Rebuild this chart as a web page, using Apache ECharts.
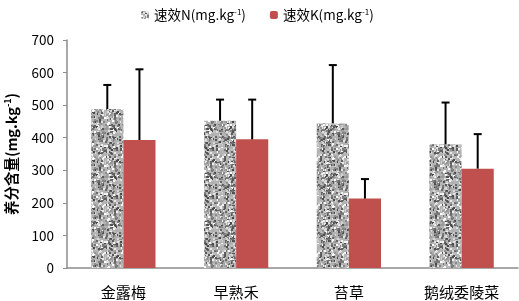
<!DOCTYPE html>
<html>
<head>
<meta charset="utf-8">
<script src="https://cdn.jsdelivr.net/npm/echarts@6/dist/echarts.min.js"></script>
<style>
  html, body { margin: 0; padding: 0; background: #fff; }
  #chart { width: 519px; height: 301px; }
</style>
</head>
<body>
<div id="chart"></div>
<script>
  const categories = ['金露梅', '早熟禾', '苔草', '鹅绒委陵菜']
  const nMean = [488, 452, 444, 380]
  const nErrTop = [562, 517, 623, 508]
  const kMean = [393, 395, 213, 305]
  const kErrTop = [610, 517, 273, 411]
  const yTicks = [0, 100, 200, 300, 400, 500, 600, 700]

  // 灰色噪点纹理 (speckle fill for the N bars)
  function makeSpeckle() {
    const c = document.createElement('canvas')
    c.width = 48
    c.height = 48
    const ctx = c.getContext('2d')
    let s = 12345
    const rnd = () => { s = (s * 1103515245 + 12345) & 0x7fffffff; return s / 0x7fffffff }
    ctx.fillStyle = '#b4b4b4'
    ctx.fillRect(0, 0, 48, 48)
    for (let k = 0; k < 700; k++) {
      const x = Math.floor(rnd() * 48)
      const y = Math.floor(rnd() * 48)
      const v = Math.round(70 + rnd() * 185)
      ctx.fillStyle = 'rgb(' + v + ',' + v + ',' + v + ')'
      ctx.fillRect(x, y, 2, 2)
    }
    return c
  }
  const speckle = { image: makeSpeckle(), repeat: 'repeat' }

  const gapRatio = 0.43
  function errBar(offsetSign) {
    return function (params, api) {
      const i = api.value(0)
      const band = api.size([1, 0])[0]
      const bw = band * (1 - gapRatio) / 2
      const base = api.coord([i, api.value(1)])
      const top = api.coord([i, api.value(2)])
      const x = base[0] + offsetSign * bw / 2
      return {
        type: 'group',
        children: [
          { type: 'line', shape: { x1: x, y1: base[1], x2: x, y2: top[1] }, style: { stroke: '#000', lineWidth: 2 } },
          { type: 'line', shape: { x1: x - 4, y1: top[1], x2: x + 4, y2: top[1] }, style: { stroke: '#000', lineWidth: 2 } }
        ]
      }
    }
  }

  const sup = {
    t: { fontSize: 13.5, color: '#000' },
    s: { fontSize: 8, verticalAlign: 'top', padding: [0, 0, 6, 0], color: '#000' }
  }

  const option = {
    animation: false,
    textStyle: { fontFamily: '"Noto Sans CJK SC", "Open Sans", sans-serif' },
    legend: {
      top: 3,
      left: 136,
      itemWidth: 8,
      itemHeight: 8,
      itemGap: 24,
      data: ['N', 'K'],
      formatter: function (name) {
        return '{t|速效' + name + '(mg.kg}{s|-1}{t|)}'
      },
      textStyle: { rich: sup }
    },
    grid: { left: 67, right: 1, top: 40, bottom: 33, outerBoundsMode: 'none' },
    xAxis: {
      type: 'category',
      data: categories,
      axisLine: { lineStyle: { color: '#8c8c8c', width: 1.5 } },
      axisTick: { lineStyle: { color: '#8c8c8c' }, length: 4 },
      axisLabel: { color: '#000', fontSize: 15, margin: 17 }
    },
    yAxis: {
      type: 'value',
      min: yTicks[0],
      max: yTicks[yTicks.length - 1],
      interval: 100,
      name: '{b|养分含量(mg.kg}{bs|-1}{b|)}',
      nameLocation: 'middle',
      nameGap: 48,
      nameRotate: 90,
      nameTextStyle: {
        rich: {
          b: { fontSize: 14.5, fontWeight: 'bold', color: '#000' },
          bs: { fontSize: 9, fontWeight: 'bold', color: '#000', verticalAlign: 'top', padding: [0, 0, 7, 0] }
        }
      },
      axisLine: { show: true, lineStyle: { color: '#8c8c8c', width: 1.5 } },
      axisTick: { show: true, length: 4, lineStyle: { color: '#8c8c8c' } },
      axisLabel: { color: '#000', fontSize: 13.5, margin: 13 },
      splitLine: { show: false }
    },
    series: [
      {
        name: 'N',
        type: 'bar',
        barGap: 0,
        barCategoryGap: (gapRatio * 100) + '%',
        itemStyle: { color: speckle },
        data: nMean,
        z: 2
      },
      {
        name: 'K',
        type: 'bar',
        itemStyle: { color: '#c0504d' },
        data: kMean,
        z: 2
      },
      {
        type: 'custom',
        renderItem: errBar(-1),
        data: nMean.map((v, i) => [i, v, nErrTop[i]]),
        z: 3,
        silent: true
      },
      {
        type: 'custom',
        renderItem: errBar(1),
        data: kMean.map((v, i) => [i, v, kErrTop[i]]),
        z: 3,
        silent: true
      }
    ]
  }

  const chart = echarts.init(document.getElementById('chart'))
  chart.setOption(option)
  window.addEventListener('resize', () => chart.resize())
</script>
</body>
</html>
